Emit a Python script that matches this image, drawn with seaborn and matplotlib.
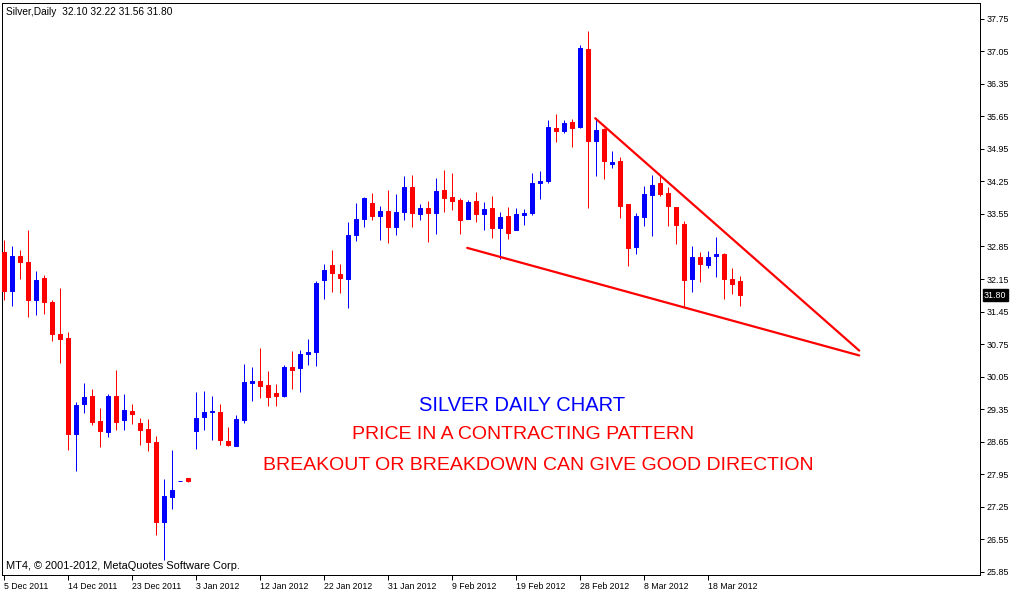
import numpy as np
import pandas as pd
import matplotlib
matplotlib.use("Agg")
import matplotlib.pyplot as plt
import seaborn as sns

# ---- data ----
opens = [32.74, 31.90, 32.65, 32.51, 31.69, 32.18, 31.66, 30.97, 30.87, 28.81,
         29.47, 29.64, 29.10, 28.85, 29.64, 29.11, 29.31, 29.06, 28.93, 28.65,
         26.91, 27.45, 27.80, 27.87, 28.87, 29.17, 29.28, 29.29, 28.67, 28.56,
         29.11, 29.92, 29.96, 29.87, 29.70, 29.64, 30.26, 30.23, 30.53, 30.57,
         32.12, 32.46, 32.26, 32.16, 33.09, 33.45, 33.79, 33.50, 33.62, 33.28,
         33.60, 34.13, 33.54, 33.68, 33.56, 34.07, 33.92, 33.86, 33.45, 33.83,
         33.54, 33.68, 33.24, 33.51, 33.20, 33.52, 33.58, 34.21, 34.25, 35.40,
         35.33, 35.53, 35.43, 37.10, 35.13, 35.38, 34.62, 34.68, 33.77, 32.83,
         33.48, 33.95, 34.22, 34.01, 33.70, 33.34, 32.14, 32.63, 32.46, 32.64,
         32.69, 32.15, 32.10]
highs = [32.98, 32.87, 32.78, 33.21, 32.33, 32.24, 31.70, 31.96, 31.01, 29.51,
         29.92, 29.79, 29.38, 29.68, 30.20, 29.68, 29.46, 29.16, 29.14, 28.78,
         27.85, 28.46, 27.80, 27.87, 29.72, 29.74, 29.64, 29.47, 28.97, 29.23,
         30.33, 30.26, 30.67, 30.18, 29.90, 30.31, 30.59, 30.63, 30.86, 32.11,
         32.48, 32.78, 32.48, 33.38, 33.79, 33.92, 34.01, 33.73, 34.07, 33.98,
         34.37, 34.39, 33.77, 33.83, 34.33, 34.50, 34.44, 33.90, 33.86, 34.03,
         33.81, 33.94, 33.60, 33.69, 33.67, 33.65, 34.44, 34.48, 35.58, 35.71,
         35.58, 35.60, 37.19, 37.49, 35.61, 35.40, 34.90, 34.77, 33.77, 33.56,
         34.16, 34.39, 34.37, 34.14, 33.71, 33.39, 32.87, 32.74, 32.76, 33.06,
         32.71, 32.38, 32.22]
lows = [31.69, 31.56, 32.16, 31.34, 31.37, 31.39, 30.81, 30.35, 28.46, 28.01,
        29.26, 29.00, 28.53, 28.76, 28.91, 28.91, 29.02, 28.57, 28.44, 26.65,
        26.11, 27.21, 27.80, 27.79, 28.49, 28.89, 28.68, 28.57, 28.55, 28.55,
        29.06, 29.52, 29.58, 29.41, 29.41, 29.60, 29.79, 29.71, 30.31, 30.27,
        31.73, 31.86, 31.84, 31.52, 32.96, 33.26, 33.41, 33.00, 32.92, 33.09,
        33.41, 33.26, 33.43, 32.94, 33.11, 33.60, 33.63, 33.11, 33.45, 33.37,
        33.20, 33.04, 32.59, 33.02, 33.20, 33.32, 33.52, 33.88, 34.21, 35.09,
        35.30, 35.00, 35.39, 33.67, 34.36, 34.31, 34.53, 33.47, 32.42, 32.68,
        33.30, 33.07, 33.93, 33.30, 32.91, 31.54, 31.88, 32.08, 32.38, 32.20,
        31.73, 31.82, 31.56]
closes = [31.90, 32.65, 32.51, 31.69, 32.13, 31.65, 30.96, 30.86, 28.81, 29.44,
          29.62, 29.08, 28.87, 29.64, 29.08, 29.34, 29.25, 28.91, 28.65, 26.93,
          27.47, 27.61, 27.80, 27.81, 29.16, 29.29, 29.31, 28.68, 28.58, 29.14,
          29.94, 29.96, 29.84, 29.62, 29.64, 30.26, 30.20, 30.54, 30.58, 32.07,
          32.35, 32.27, 32.18, 33.10, 33.45, 33.90, 33.50, 33.62, 33.28, 33.60,
          34.13, 33.58, 33.68, 33.56, 34.05, 33.90, 33.82, 33.43, 33.81, 33.54,
          33.66, 33.24, 33.49, 33.15, 33.55, 33.58, 34.22, 34.25, 35.43, 35.33,
          35.51, 35.41, 37.13, 35.11, 35.36, 34.70, 34.66, 33.73, 32.81, 33.51,
          33.98, 34.18, 33.99, 33.73, 33.32, 32.12, 32.63, 32.48, 32.63, 32.69,
          32.14, 32.05, 31.80]

date_labels = ["5 Dec 2011", "14 Dec 2011", "23 Dec 2011", "3 Jan 2012",
               "12 Jan 2012", "22 Jan 2012", "31 Jan 2012", "9 Feb 2012",
               "19 Feb 2012", "28 Feb 2012", "8 Mar 2012", "18 Mar 2012"]
date_label_pos = [0, 8, 16, 24, 32, 40, 48, 56, 64, 72, 80, 88]

price_ticks = [25.85, 26.55, 27.25, 27.95, 28.65, 29.35, 30.05, 30.75,
               31.45, 32.15, 32.85, 33.55, 34.25, 34.95, 35.65, 36.35,
               37.05, 37.75]

upper_line_x = [73.9, 106.9]
upper_line_y = [35.61, 30.61]
lower_line_x = [57.9, 106.9]
lower_line_y = [32.82, 30.505]

last_price = 31.80

# ---- figure ----
sns.set_style("white")
plt.rcParams['font.family'] = ['Liberation Sans', 'DejaVu Sans']

W, H = 1018, 592
fig = plt.figure(figsize=(W / 100, H / 100), dpi=100)
fig.patch.set_facecolor("white")
ax = fig.add_axes([2 / W, (H - 575) / H, (980 - 2) / W, (575 - 3) / H])
ax.set_facecolor("white")

df = pd.DataFrame({"o": opens, "h": highs, "l": lows, "c": closes})
df["x"] = np.arange(len(df))
df["col"] = np.where(df["c"] >= df["o"], "#0000ff", "#ff0000")

px = 0.72  # one pixel in points
ax.vlines(df["x"], df["l"], df["h"], colors=df["col"], linewidth=px, zorder=2)
body_bottom = np.minimum(df["o"], df["c"])
body_h = np.abs(df["c"] - df["o"])
ax.bar(df["x"], body_h, bottom=body_bottom, width=0.5, color=df["col"],
       edgecolor=df["col"], linewidth=px, zorder=3)

tl = pd.DataFrame({"x": upper_line_x + lower_line_x,
                   "y": upper_line_y + lower_line_y,
                   "line": ["upper"] * 2 + ["lower"] * 2})
sns.lineplot(data=tl, x="x", y="y", units="line", estimator=None,
             color="#ff0000", linewidth=1.6, ax=ax, zorder=4, legend=False)

ax.set_xlim(-0.25, 122)
ax.set_ylim(25.78, 38.09)

ax.yaxis.tick_right()
ax.set_yticks(price_ticks)
ax.set_yticklabels([f"{v:.2f}" for v in price_ticks])
ax.set_xticks(date_label_pos)
ax.set_xticklabels(date_labels)
for lab in ax.get_xticklabels():
    lab.set_horizontalalignment("left")
ax.tick_params(axis="y", direction="out", length=3, width=px, pad=2,
               labelsize=6.4, colors="black", right=True, left=False)
ax.tick_params(axis="x", direction="out", length=3.5, width=px, pad=1.5,
               labelsize=6.3, colors="black", bottom=True)
ax.set_xlabel("")
ax.set_ylabel("")
for s in ax.spines.values():
    s.set_color("black")
    s.set_linewidth(px)
    s.set_visible(True)

# last price box
ax.text(1.004, last_price, f"{last_price:.2f}", transform=ax.get_yaxis_transform(),
        ha="left", va="center", fontsize=6.4, color="white",
        bbox=dict(boxstyle="square,pad=0.15", fc="black", ec="black"),
        zorder=10, clip_on=False)

# header / footer texts
ax.text(0.004, 0.984, "Silver,Daily  32.10 32.22 31.56 31.80", transform=ax.transAxes,
        ha="left", va="center", fontsize=7.3, color="black")
ax.text(0.004, 0.016, "MT4, © 2001-2012, MetaQuotes Software Corp.", transform=ax.transAxes,
        ha="left", va="center", fontsize=7.9, color="black")

# annotations
ax.text(0.532, 0.297, "SILVER DAILY CHART", transform=ax.transAxes,
        ha="center", va="center", fontsize=14.5, color="#0000ff")
ax.text(0.533, 0.245, "PRICE IN A CONTRACTING PATTERN", transform=ax.transAxes,
        ha="center", va="center", fontsize=14, color="#ff0000")
ax.text(0.548, 0.192, "BREAKOUT OR BREAKDOWN CAN GIVE GOOD DIRECTION",
        transform=ax.transAxes, ha="center", va="center", fontsize=14, color="#ff0000")

fig.savefig("out.png", dpi=100, facecolor="white")
